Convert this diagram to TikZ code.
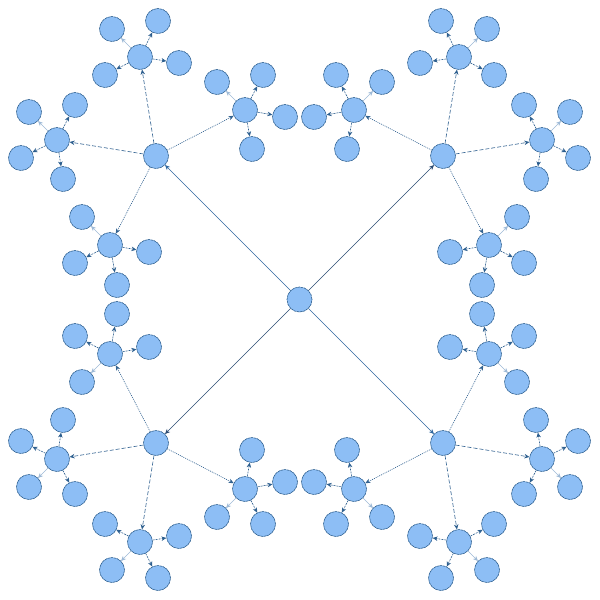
\documentclass[tikz,border=0pt]{standalone}
\usetikzlibrary{arrows.meta}
\definecolor{nodefill}{HTML}{8DBEF5}
\definecolor{nodeline}{HTML}{2D5F8F}
\definecolor{edgedark}{HTML}{2C5E8E}
\definecolor{edgelight}{HTML}{9DB9D6}
\definecolor{rootA}{HTML}{2E67A0}
\definecolor{rootB}{HTML}{2A4A72}
\tikzset{
  vert/.style={circle, minimum size=25pt, inner sep=0pt, fill=nodefill, draw=nodeline, line width=0.6pt, dash pattern=on 2.5pt off 0.6pt},
  tip/.style={-{Stealth[length=5pt,width=4.5pt]}},
  rootedge/.style={tip, line width=0.6pt},
  outeredge/.style={tip, draw=edgedark, line width=0.6pt, dash pattern=on 4pt off 2pt},
  inneredge/.style={tip, draw=edgedark, line width=0.6pt, dash pattern=on 1pt off 1pt},
  leafdark/.style={tip, draw=edgedark, line width=0.6pt, dash pattern=on 2pt off 1pt},
  leaflight/.style={tip, draw=edgelight, line width=0.6pt}
}
\begin{document}
\begin{tikzpicture}[x=1pt,y=-1pt]
\useasboundingbox (0,0) rectangle (600,600);
\node[vert] (root) at (299.5,299.5) {};
\foreach \q/\sx/\sy/\rc in {tl/1/1/rootA, tr/-1/1/rootB, bl/1/-1/rootB, br/-1/-1/rootA}{
  \begin{scope}[shift={(299.5,299.5)}, xscale=\sx, yscale=\sy]
    \node[vert] (\q L) at (-143.5,-143.5) {};
    % outer child A
    \node[vert] (\q A) at (-159.5,-242.5) {};
    \node[vert] (\q A1) at (-187.5,-270.5) {};
    \node[vert] (\q A2) at (-141.5,-278.5) {};
    \node[vert] (\q A3) at (-120.5,-236.5) {};
    \node[vert] (\q A4) at (-194.5,-224.5) {};
    % outer child B
    \node[vert] (\q B) at (-242.5,-159.5) {};
    \node[vert] (\q B1) at (-270.5,-187.5) {};
    \node[vert] (\q B2) at (-278.5,-141.5) {};
    \node[vert] (\q B3) at (-236.5,-120.5) {};
    \node[vert] (\q B4) at (-224.5,-194.5) {};
    % inner child C
    \node[vert] (\q C) at (-54.5,-189.5) {};
    \node[vert] (\q C1) at (-82.5,-217.5) {};
    \node[vert] (\q C2) at (-36.5,-224.5) {};
    \node[vert] (\q C3) at (-14.5,-182.5) {};
    \node[vert] (\q C4) at (-47.5,-150.5) {};
    % inner child D
    \node[vert] (\q D) at (-189.5,-54.5) {};
    \node[vert] (\q D1) at (-217.5,-82.5) {};
    \node[vert] (\q D2) at (-224.5,-36.5) {};
    \node[vert] (\q D3) at (-182.5,-14.5) {};
    \node[vert] (\q D4) at (-150.5,-47.5) {};
  \end{scope}
  \draw[rootedge, draw=\rc] (root) -- (\q L);
  \draw[outeredge] (\q L) -- (\q A);
  \draw[outeredge] (\q L) -- (\q B);
  \draw[inneredge] (\q L) -- (\q C);
  \draw[inneredge] (\q L) -- (\q D);
  \foreach \c in {A,B,C,D}{
    \draw[leaflight] (\q\c) -- (\q\c1);
    \draw[leafdark] (\q\c) -- (\q\c2);
    \draw[leafdark] (\q\c) -- (\q\c3);
    \draw[leafdark] (\q\c) -- (\q\c4);
  }
}
\end{tikzpicture}
\end{document}
